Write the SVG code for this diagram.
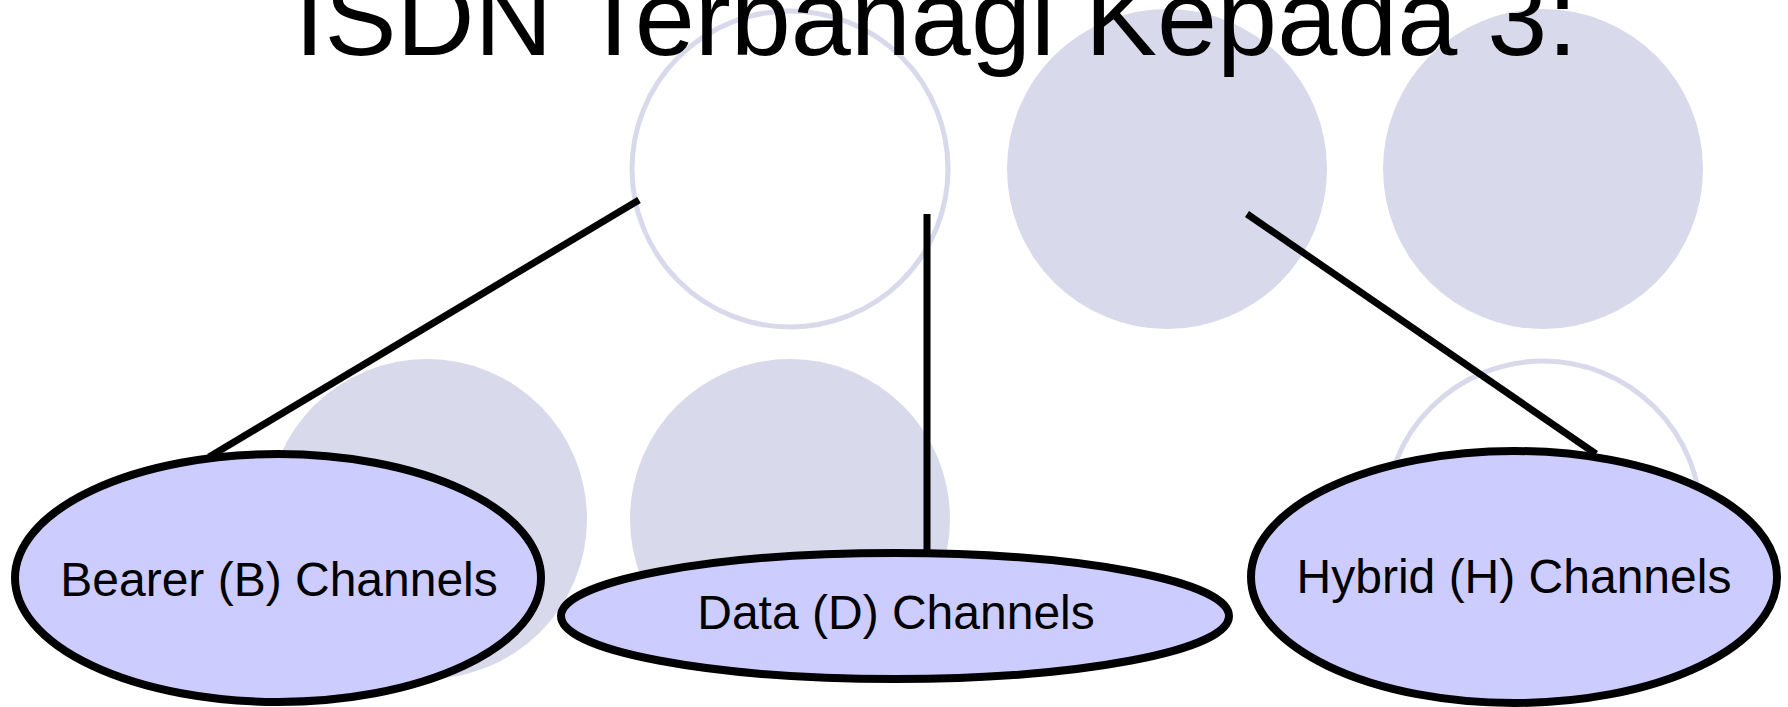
<svg xmlns="http://www.w3.org/2000/svg" width="1788" height="707" viewBox="0 0 1788 707">
<style>
.bgf{fill:#d9d9ec;stroke:none}
.bgo{fill:#ffffff;stroke:#d9d9ec;stroke-width:5}
.node{fill:#ccccff;stroke:#000000;stroke-width:8}
.lbl{font-family:"Liberation Sans",Arial,sans-serif;font-size:48px;fill:#000000;text-anchor:middle}
.title{font-family:"Liberation Sans",Arial,sans-serif;font-size:108px;fill:#000000;text-anchor:middle}
.conn line{stroke:#000000;stroke-width:7}
</style>
<rect width="1788" height="707" fill="#ffffff"/>
<g id="background">
<circle class="bgo" cx="790" cy="169" r="158"/>
<circle class="bgf" cx="1167" cy="169" r="160"/>
<circle class="bgf" cx="1543" cy="169" r="160"/>
<circle class="bgf" cx="427" cy="519" r="160"/>
<circle class="bgf" cx="790" cy="519" r="160"/>
<circle class="bgo" cx="1543" cy="519" r="158"/>
</g>
<g id="title"><text class="title" x="936" y="55">ISDN Terbanagi Kepada 3:</text></g>
<g id="connectors" class="conn">
<line x1="639" y1="200" x2="209" y2="457"/>
<line x1="927" y1="214" x2="927" y2="553"/>
<line x1="1247" y1="214" x2="1596" y2="454"/>
</g>
<g id="bearer">
<ellipse class="node" cx="278" cy="578" rx="263" ry="124"/>
<text class="lbl" x="279" y="596">Bearer (B) Channels</text>
</g>
<g id="data">
<ellipse class="node" cx="895" cy="616" rx="334" ry="63"/>
<text class="lbl" x="896" y="629">Data (D) Channels</text>
</g>
<g id="hybrid">
<ellipse class="node" cx="1514" cy="577" rx="263" ry="126"/>
<text class="lbl" x="1514" y="593">Hybrid (H) Channels</text>
</g>
</svg>
